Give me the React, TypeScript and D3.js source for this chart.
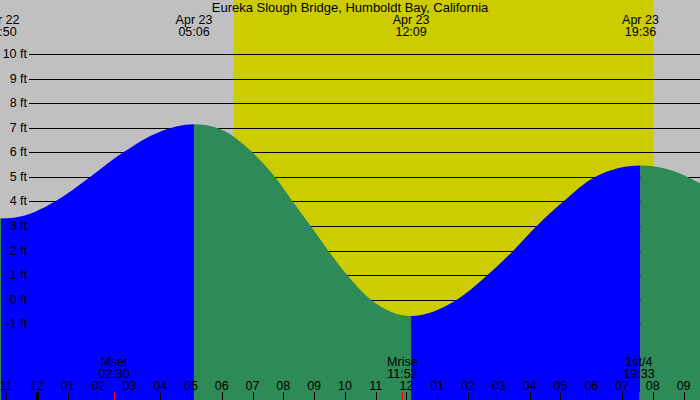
import React from "react";
import * as d3 from "d3";

const W = 700;
const H = 400;

const title = "Eureka Slough Bridge, Humboldt Bay, California";

// hours relative to midnight Apr 23
const tideHours = [-1.25, -1.167, -0.5, 0.585, 1.721, 2.803, 3.995, 5.1, 5.836, 6.993, 7.73, 8.305, 8.889, 9.461, 10.078, 10.848, 12.15, 13.631, 14.625, 15.469, 16.229, 17.093, 18.123, 19.6, 20.451, 21.6];
const tideFeet = [3.32, 3.31, 3.4, 4.0, 5.0, 6.0, 6.84, 7.14, 7.0, 6.0, 5.0, 4.0, 3.0, 2.0, 1.0, 0.0, -0.66, 0.0, 1.0, 2.0, 3.0, 4.0, 5.0, 5.46, 5.32, 4.7];

const extremeHours = [-1.167, 5.1, 12.15, 19.6];
const extremeDates = ["Apr 22", "Apr 23", "Apr 23", "Apr 23"];
const extremeTimes = ["22:50", "05:06", "12:09", "19:36"];

const sunriseHour = 6.39;
const sunsetHour = 20.03;

const moonHours = [2.5, 11.867, 19.55];
const moonNames = ["Mset", "Mrise", "1st/4"];
const moonTimes = ["02:30", "11:52", "19:33"];

const hourTicks = d3.range(-1, 22);
const feetTicks = d3.range(-1, 11);

const FONT = "'Liberation Sans', Arial, sans-serif";
const FS = 12.5;

export default function App() {
  const x = d3.scaleLinear().domain([0, 21]).range([37, 37 + 21 * 30.79]);
  const y = d3.scaleLinear().domain([0, 10]).range([299.8, 54]);

  const pts: [number, number][] = tideHours.map((h, i) => [h, tideFeet[i]]);
  const area = d3
    .area<[number, number]>()
    .x((d) => x(d[0]))
    .y0(H)
    .y1((d) => y(d[1]))
    .curve(d3.curveMonotoneX);
  const areaPath = area(pts) || "";

  const bounds = [tideHours[0], ...extremeHours, tideHours[tideHours.length - 1]];
  const segs = bounds.slice(0, -1).map((b, i) => {
    const a = bounds[i + 1];
    const rising = tideFeet[tideHours.indexOf(a)] > tideFeet[tideHours.indexOf(b)];
    return { x0: x(b), x1: x(a), color: rising ? "#0000ff" : "#2e8b57" };
  });

  const hourLabel = (h: number) => {
    const hh = ((h % 24) + 24) % 24;
    const v = hh % 12 === 0 ? 12 : hh % 12;
    return String(v).padStart(2, "0");
  };

  return (
    <div style={{ position: "absolute", left: 0, top: 0 }}>
      <svg width={W} height={H} style={{ display: "block" }} fontFamily={FONT}>
        <defs>
          {segs.map((s, i) => (
            <clipPath id={`seg${i}`} key={i}>
              <rect x={s.x0} y={0} width={s.x1 - s.x0} height={H} />
            </clipPath>
          ))}
        </defs>
        <rect x={0} y={0} width={W} height={H} fill="#c0c0c0" />
        <rect x={x(sunriseHour)} y={0} width={x(sunsetHour) - x(sunriseHour)} height={H} fill="#cccc00" />
        {feetTicks.map((f) => (
          <line key={f} x1={29} x2={W} y1={Math.round(y(f)) + 0.5} y2={Math.round(y(f)) + 0.5} stroke="#000" strokeWidth={1} />
        ))}
        {segs.map((s, i) => (
          <path key={i} d={areaPath} fill={s.color} clipPath={`url(#seg${i})`} />
        ))}
        {feetTicks.map((f) => (
          <text key={f} x={27} y={y(f) + 4} textAnchor="end" fontSize={FS} fill="#000">
            {`${f} ft`}
          </text>
        ))}
        <text x={W / 2} y={12} textAnchor="middle" fontSize={13} fill="#000">
          {title}
        </text>
        {extremeHours.map((h, i) => (
          <g key={i}>
            <text x={x(h)} y={24} textAnchor="middle" fontSize={FS} fill="#000">
              {extremeDates[i]}
            </text>
            <text x={x(h)} y={36} textAnchor="middle" fontSize={FS} fill="#000">
              {extremeTimes[i]}
            </text>
          </g>
        ))}
        {hourTicks.map((h) => (
          <g key={h}>
            <line
              x1={Math.round(x(h)) + 0.5}
              x2={Math.round(x(h)) + 0.5}
              y1={392}
              y2={H}
              stroke="#000"
              strokeWidth={h % 24 === 0 ? 3 : 1}
            />
            <text x={x(h)} y={390} textAnchor="middle" fontSize={FS} fill="#000">
              {hourLabel(h)}
            </text>
          </g>
        ))}
        {moonHours.map((h, i) => (
          <g key={i}>
            <line x1={Math.round(x(h)) + 0.5} x2={Math.round(x(h)) + 0.5} y1={392} y2={H} stroke="#ff0000" strokeWidth={1} />
            <text x={x(h)} y={366} textAnchor="middle" fontSize={FS} fill="#000">
              {moonNames[i]}
            </text>
            <text x={x(h)} y={378} textAnchor="middle" fontSize={FS} fill="#000">
              {moonTimes[i]}
            </text>
          </g>
        ))}
      </svg>
    </div>
  );
}
